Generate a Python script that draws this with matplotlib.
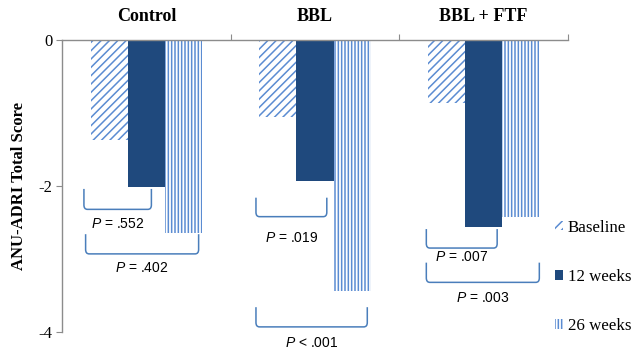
import matplotlib.pyplot as plt
import numpy as np
from matplotlib.path import Path
from matplotlib.patches import PathPatch, Patch

plt.rcParams['hatch.linewidth'] = 1.1
plt.rcParams['mathtext.fontset'] = 'custom'
plt.rcParams['mathtext.it'] = 'Liberation Sans:italic'

groups = ['Control', 'BBL', 'BBL + FTF']
series = ['Baseline', '12 weeks', '26 weeks']
baseline = [-1.37, -1.05, -0.86]
weeks12 = [-2.01, -1.93, -2.56]
weeks26 = [-2.64, -3.44, -2.42]

# p-value brackets: group, left/right offset from group centre, top, bottom, label y, text
br_group = [0, 0, 1, 1, 2, 2]
br_x0 = [-0.37, -0.36, -0.35, -0.35, -0.34, -0.34]
br_x1 = [0.03, 0.31, 0.07, 0.31, 0.08, 0.33]
br_top = [-2.04, -2.66, -2.16, -3.66, -2.59, -3.05]
br_bot = [-2.32, -2.93, -2.42, -3.93, -2.85, -3.32]
br_lab = [-2.52, -3.12, -2.71, -4.15, -2.97, -3.53]
br_sym = ['=', '=', '=', '<', '=', '=']
br_p = ['.552', '.402', '.019', '.001', '.007', '.003']

light = '#5b8cd2'
dark = '#1f497d'
gray = '#8c8c8c'

fig = plt.figure(figsize=(6.36, 3.51), dpi=100)
ax = fig.add_axes([62/636, 1 - 332/351, (568-62)/636, (332-40)/351])

x = np.arange(len(groups))
w = 0.22
ax.bar(x - w, baseline, w, facecolor='white', edgecolor=light, hatch='////', linewidth=0)
ax.bar(x, weeks12, w, color=dark, linewidth=0)
ax.bar(x + w, weeks26, w, facecolor='white', edgecolor=light, hatch='|||||', linewidth=0)

ax.set_xlim(-0.5, 2.5)
ax.set_ylim(-4, 0)

for s in ['bottom', 'right']:
    ax.spines[s].set_visible(False)
for s in ['left', 'top']:
    ax.spines[s].set_color(gray)
    ax.spines[s].set_linewidth(1.0)

ax.xaxis.tick_top()
ax.set_xticks([0.5, 1.5, 2.5])
ax.set_xticklabels([])
ax.tick_params(axis='x', direction='out', length=4, color=gray)
ax.set_yticks([0, -2, -4])
ax.set_yticklabels(['0', '-2', '-4'], fontfamily='Liberation Serif', fontsize=12)
ax.tick_params(axis='y', direction='out', length=4, color=gray, pad=3)
ax.set_ylabel('ANU-ADRI Total Score', fontfamily='Liberation Serif', fontsize=12,
              fontweight='bold', labelpad=8)

for i, g in enumerate(groups):
    ax.text(i, 1.079, g, transform=ax.get_xaxis_transform(), ha='center', va='center',
            fontfamily='Liberation Serif', fontsize=13, fontweight='bold')

r = 0.06
for g, a, b, t, bt, ly, sym, p in zip(br_group, br_x0, br_x1, br_top, br_bot, br_lab, br_sym, br_p):
    x0, x1 = g + a, g + b
    rx = r * 0.35
    verts = [(x0, t), (x0, bt + r), (x0, bt), (x0 + rx, bt), (x1 - rx, bt),
             (x1, bt), (x1, bt + r), (x1, t)]
    codes = [Path.MOVETO, Path.LINETO, Path.CURVE3, Path.CURVE3, Path.LINETO,
             Path.CURVE3, Path.CURVE3, Path.LINETO]
    ax.add_patch(PathPatch(Path(verts, codes), fill=False, edgecolor='#4a7ebb',
                           linewidth=1.1, clip_on=False))
    ax.text((x0 + x1) / 2, ly, r'$P$' + f' {sym} {p}', ha='center', va='center',
            fontfamily='Liberation Sans', fontsize=10, clip_on=False)

handles = [Patch(facecolor='white', edgecolor=light, hatch='////', linewidth=0),
           Patch(facecolor=dark, linewidth=0),
           Patch(facecolor='white', edgecolor=light, hatch='|||||', linewidth=0)]
fig.legend(handles, series, loc='center left', bbox_to_anchor=(555/636, 1 - 277/351),
           frameon=False, prop={'family': 'Liberation Serif', 'size': 12.2},
           handlelength=0.45, handleheight=0.45, handletextpad=0.3, labelspacing=1.95,
           borderpad=0, borderaxespad=0)

fig.savefig('out.png', dpi=100)
